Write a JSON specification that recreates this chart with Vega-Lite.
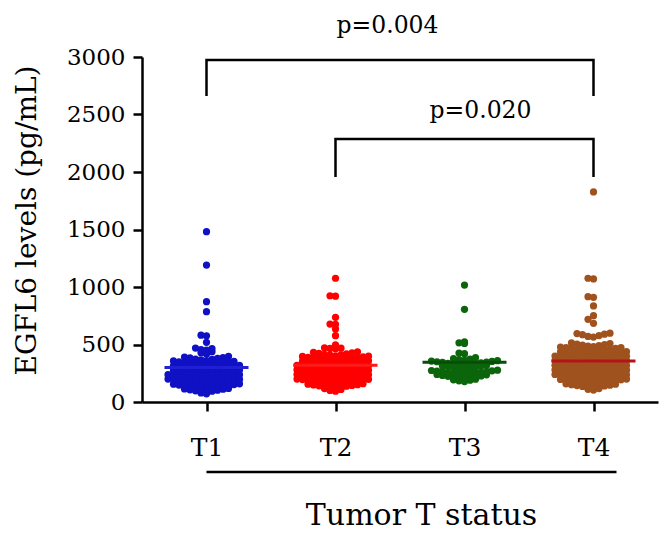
{
  "$schema": "https://vega.github.io/schema/vega-lite/v6.json",
  "width": 516,
  "height": 345,
  "autosize": {"type": "none"},
  "padding": {"left": 142, "top": 57, "right": 12, "bottom": 139},
  "background": "white",
  "config": {
    "view": {"stroke": null},
    "font": "DejaVu Serif",
    "axis": {
      "grid": false,
      "domainColor": "black",
      "domainWidth": 2.5,
      "tickColor": "black",
      "tickWidth": 2.5,
      "tickSize": 9,
      "labelColor": "black",
      "titleColor": "black",
      "labelFont": "DejaVu Serif",
      "titleFont": "DejaVu Serif",
      "titleFontWeight": "normal",
      "labelFlush": false,
      "labelOverlap": false
    },
    "axisX": {"labelFontSize": 25, "labelPadding": 24, "labelAngle": 0, "titleFontSize": 30, "titleX": 279, "titleY": 98, "titleBaseline": "top", "titleAlign": "center"},
    "axisY": {"labelFontSize": 23, "labelPadding": 8, "tickCount": 6, "titleFontSize": 28, "titleX": -107, "titleY": 163, "titleAlign": "center", "titleBaseline": "alphabetic", "titleAngle": -90}
  },
  "resolve": {"scale": {"color": "independent"}},
  "datasets": {
    "pts": [
      {"g":"T1","v":71},{"g":"T1","v":79},
      {"g":"T1","v":83},{"g":"T1","v":90},{"g":"T1","v":94},{"g":"T1","v":97},{"g":"T1","v":103},{"g":"T1","v":106},{"g":"T1","v":111},{"g":"T1","v":113},{"g":"T1","v":118},
      {"g":"T1","v":122},{"g":"T1","v":125},{"g":"T1","v":126},{"g":"T1","v":131},{"g":"T1","v":134},{"g":"T1","v":135},{"g":"T1","v":140},{"g":"T1","v":143},{"g":"T1","v":146},{"g":"T1","v":147},{"g":"T1","v":152},{"g":"T1","v":155},{"g":"T1","v":158},
      {"g":"T1","v":160},{"g":"T1","v":163},{"g":"T1","v":168},{"g":"T1","v":169},{"g":"T1","v":172},{"g":"T1","v":177},{"g":"T1","v":180},{"g":"T1","v":181},{"g":"T1","v":186},{"g":"T1","v":189},{"g":"T1","v":190},{"g":"T1","v":195},{"g":"T1","v":196},{"g":"T1","v":199},
      {"g":"T1","v":202},{"g":"T1","v":203},{"g":"T1","v":208},{"g":"T1","v":211},{"g":"T1","v":212},{"g":"T1","v":217},{"g":"T1","v":220},{"g":"T1","v":223},{"g":"T1","v":224},{"g":"T1","v":229},{"g":"T1","v":232},{"g":"T1","v":233},{"g":"T1","v":236},{"g":"T1","v":238},
      {"g":"T1","v":242},{"g":"T1","v":245},{"g":"T1","v":246},{"g":"T1","v":251},{"g":"T1","v":254},{"g":"T1","v":255},{"g":"T1","v":260},{"g":"T1","v":263},{"g":"T1","v":264},{"g":"T1","v":269},{"g":"T1","v":272},{"g":"T1","v":275},{"g":"T1","v":278},
      {"g":"T1","v":280},{"g":"T1","v":285},{"g":"T1","v":288},{"g":"T1","v":289},{"g":"T1","v":294},{"g":"T1","v":297},{"g":"T1","v":298},{"g":"T1","v":303},{"g":"T1","v":306},{"g":"T1","v":307},{"g":"T1","v":312},{"g":"T1","v":315},{"g":"T1","v":318},
      {"g":"T1","v":321},{"g":"T1","v":326},{"g":"T1","v":327},{"g":"T1","v":332},{"g":"T1","v":335},{"g":"T1","v":338},{"g":"T1","v":341},{"g":"T1","v":342},{"g":"T1","v":347},{"g":"T1","v":350},{"g":"T1","v":353},{"g":"T1","v":357},
      {"g":"T1","v":361},{"g":"T1","v":367},{"g":"T1","v":371},{"g":"T1","v":373},{"g":"T1","v":379},{"g":"T1","v":383},{"g":"T1","v":385},{"g":"T1","v":391},{"g":"T1","v":396},
      {"g":"T1","v":417},{"g":"T1","v":429},{"g":"T1","v":437},
      {"g":"T1","v":451},{"g":"T1","v":456},{"g":"T1","v":464},{"g":"T1","v":469},
      {"g":"T1","v":519},{"g":"T1","v":576},{"g":"T1","v":581},{"g":"T1","v":785},{"g":"T1","v":872},{"g":"T1","v":1191},{"g":"T1","v":1481},

      {"g":"T2","v":94},{"g":"T2","v":101},{"g":"T2","v":109},{"g":"T2","v":117},
      {"g":"T2","v":121},{"g":"T2","v":126},{"g":"T2","v":129},{"g":"T2","v":133},{"g":"T2","v":137},{"g":"T2","v":141},{"g":"T2","v":144},{"g":"T2","v":148},{"g":"T2","v":151},{"g":"T2","v":155},{"g":"T2","v":159},
      {"g":"T2","v":161},{"g":"T2","v":164},{"g":"T2","v":167},{"g":"T2","v":171},{"g":"T2","v":174},{"g":"T2","v":178},{"g":"T2","v":180},{"g":"T2","v":183},{"g":"T2","v":187},{"g":"T2","v":190},{"g":"T2","v":192},{"g":"T2","v":195},{"g":"T2","v":197},{"g":"T2","v":199},
      {"g":"T2","v":201},{"g":"T2","v":205},{"g":"T2","v":206},{"g":"T2","v":210},{"g":"T2","v":214},{"g":"T2","v":216},{"g":"T2","v":219},{"g":"T2","v":223},{"g":"T2","v":225},{"g":"T2","v":228},{"g":"T2","v":231},{"g":"T2","v":234},{"g":"T2","v":236},{"g":"T2","v":239},
      {"g":"T2","v":240},{"g":"T2","v":243},{"g":"T2","v":247},{"g":"T2","v":250},{"g":"T2","v":252},{"g":"T2","v":256},{"g":"T2","v":259},{"g":"T2","v":262},{"g":"T2","v":265},{"g":"T2","v":268},{"g":"T2","v":270},{"g":"T2","v":274},{"g":"T2","v":276},{"g":"T2","v":279},
      {"g":"T2","v":281},{"g":"T2","v":284},{"g":"T2","v":286},{"g":"T2","v":290},{"g":"T2","v":293},{"g":"T2","v":297},{"g":"T2","v":299},{"g":"T2","v":302},{"g":"T2","v":304},{"g":"T2","v":308},{"g":"T2","v":311},{"g":"T2","v":313},{"g":"T2","v":316},{"g":"T2","v":319},
      {"g":"T2","v":322},{"g":"T2","v":325},{"g":"T2","v":328},{"g":"T2","v":331},{"g":"T2","v":334},{"g":"T2","v":336},{"g":"T2","v":340},{"g":"T2","v":343},{"g":"T2","v":345},{"g":"T2","v":349},{"g":"T2","v":352},{"g":"T2","v":355},{"g":"T2","v":358},
      {"g":"T2","v":361},{"g":"T2","v":364},{"g":"T2","v":368},{"g":"T2","v":370},{"g":"T2","v":374},{"g":"T2","v":377},{"g":"T2","v":380},{"g":"T2","v":384},{"g":"T2","v":386},{"g":"T2","v":389},{"g":"T2","v":392},{"g":"T2","v":396},{"g":"T2","v":398},
      {"g":"T2","v":402},{"g":"T2","v":407},{"g":"T2","v":411},{"g":"T2","v":415},{"g":"T2","v":418},{"g":"T2","v":423},{"g":"T2","v":427},{"g":"T2","v":431},{"g":"T2","v":436},
      {"g":"T2","v":463},{"g":"T2","v":466},{"g":"T2","v":468},{"g":"T2","v":471},
      {"g":"T2","v":496},{"g":"T2","v":577},{"g":"T2","v":635},{"g":"T2","v":676},{"g":"T2","v":678},{"g":"T2","v":736},{"g":"T2","v":920},{"g":"T2","v":924},{"g":"T2","v":1076},

      {"g":"T3","v":178},{"g":"T3","v":184},{"g":"T3","v":189},{"g":"T3","v":193},{"g":"T3","v":198},
      {"g":"T3","v":203},{"g":"T3","v":207},{"g":"T3","v":211},{"g":"T3","v":215},{"g":"T3","v":219},{"g":"T3","v":223},{"g":"T3","v":227},{"g":"T3","v":231},{"g":"T3","v":236},{"g":"T3","v":239},
      {"g":"T3","v":241},{"g":"T3","v":244},{"g":"T3","v":247},{"g":"T3","v":250},{"g":"T3","v":253},{"g":"T3","v":256},{"g":"T3","v":258},{"g":"T3","v":262},{"g":"T3","v":265},{"g":"T3","v":268},{"g":"T3","v":271},{"g":"T3","v":274},{"g":"T3","v":277},
      {"g":"T3","v":283},{"g":"T3","v":288},{"g":"T3","v":292},{"g":"T3","v":297},{"g":"T3","v":301},{"g":"T3","v":306},{"g":"T3","v":310},{"g":"T3","v":314},{"g":"T3","v":318},
      {"g":"T3","v":322},{"g":"T3","v":325},{"g":"T3","v":328},{"g":"T3","v":331},{"g":"T3","v":334},{"g":"T3","v":337},{"g":"T3","v":340},{"g":"T3","v":344},{"g":"T3","v":347},{"g":"T3","v":350},{"g":"T3","v":353},{"g":"T3","v":356},{"g":"T3","v":359},
      {"g":"T3","v":363},{"g":"T3","v":368},{"g":"T3","v":372},{"g":"T3","v":377},{"g":"T3","v":385},
      {"g":"T3","v":420},{"g":"T3","v":426},{"g":"T3","v":509},{"g":"T3","v":515},{"g":"T3","v":522},{"g":"T3","v":806},{"g":"T3","v":1017},

      {"g":"T4","v":104},{"g":"T4","v":110},{"g":"T4","v":117},
      {"g":"T4","v":123},{"g":"T4","v":128},{"g":"T4","v":131},{"g":"T4","v":135},{"g":"T4","v":139},{"g":"T4","v":143},{"g":"T4","v":146},{"g":"T4","v":150},{"g":"T4","v":155},{"g":"T4","v":158},
      {"g":"T4","v":161},{"g":"T4","v":165},{"g":"T4","v":167},{"g":"T4","v":171},{"g":"T4","v":174},{"g":"T4","v":178},{"g":"T4","v":180},{"g":"T4","v":184},{"g":"T4","v":187},{"g":"T4","v":191},{"g":"T4","v":193},{"g":"T4","v":196},{"g":"T4","v":199},
      {"g":"T4","v":201},{"g":"T4","v":204},{"g":"T4","v":208},{"g":"T4","v":210},{"g":"T4","v":213},{"g":"T4","v":217},{"g":"T4","v":219},{"g":"T4","v":222},{"g":"T4","v":226},{"g":"T4","v":228},{"g":"T4","v":231},{"g":"T4","v":235},{"g":"T4","v":237},{"g":"T4","v":239},
      {"g":"T4","v":241},{"g":"T4","v":245},{"g":"T4","v":247},{"g":"T4","v":250},{"g":"T4","v":254},{"g":"T4","v":256},{"g":"T4","v":259},{"g":"T4","v":263},{"g":"T4","v":265},{"g":"T4","v":268},{"g":"T4","v":272},{"g":"T4","v":274},{"g":"T4","v":277},{"g":"T4","v":279},
      {"g":"T4","v":281},{"g":"T4","v":284},{"g":"T4","v":288},{"g":"T4","v":290},{"g":"T4","v":293},{"g":"T4","v":297},{"g":"T4","v":299},{"g":"T4","v":302},{"g":"T4","v":306},{"g":"T4","v":308},{"g":"T4","v":311},{"g":"T4","v":315},{"g":"T4","v":317},{"g":"T4","v":319},
      {"g":"T4","v":321},{"g":"T4","v":325},{"g":"T4","v":327},{"g":"T4","v":330},{"g":"T4","v":334},{"g":"T4","v":336},{"g":"T4","v":339},{"g":"T4","v":343},{"g":"T4","v":345},{"g":"T4","v":348},{"g":"T4","v":352},{"g":"T4","v":354},{"g":"T4","v":357},{"g":"T4","v":359},
      {"g":"T4","v":361},{"g":"T4","v":365},{"g":"T4","v":367},{"g":"T4","v":370},{"g":"T4","v":374},{"g":"T4","v":376},{"g":"T4","v":379},{"g":"T4","v":383},{"g":"T4","v":385},{"g":"T4","v":388},{"g":"T4","v":392},{"g":"T4","v":394},{"g":"T4","v":397},{"g":"T4","v":399},
      {"g":"T4","v":402},{"g":"T4","v":406},{"g":"T4","v":408},{"g":"T4","v":411},{"g":"T4","v":415},{"g":"T4","v":417},{"g":"T4","v":420},{"g":"T4","v":424},{"g":"T4","v":426},{"g":"T4","v":429},{"g":"T4","v":433},{"g":"T4","v":435},{"g":"T4","v":438},
      {"g":"T4","v":442},{"g":"T4","v":446},{"g":"T4","v":448},{"g":"T4","v":451},{"g":"T4","v":456},{"g":"T4","v":458},{"g":"T4","v":461},{"g":"T4","v":465},{"g":"T4","v":467},{"g":"T4","v":472},{"g":"T4","v":474},{"g":"T4","v":478},
      {"g":"T4","v":482},{"g":"T4","v":487},{"g":"T4","v":490},{"g":"T4","v":495},{"g":"T4","v":499},{"g":"T4","v":504},{"g":"T4","v":508},{"g":"T4","v":514},
      {"g":"T4","v":565},{"g":"T4","v":570},{"g":"T4","v":578},{"g":"T4","v":585},{"g":"T4","v":590},{"g":"T4","v":595},{"g":"T4","v":598},
      {"g":"T4","v":684},{"g":"T4","v":719},{"g":"T4","v":751},{"g":"T4","v":835},{"g":"T4","v":910},{"g":"T4","v":916},{"g":"T4","v":1070},{"g":"T4","v":1076},{"g":"T4","v":1827}
    ],
    "means": [
      {"g":"T1","v":300},{"g":"T2","v":320},{"g":"T3","v":345},{"g":"T4","v":357}
    ],
    "brackets": [
      {"b":1,"o":1,"g":"T1","v":2661},{"b":1,"o":2,"g":"T1","v":2974},{"b":1,"o":3,"g":"T4","v":2974},{"b":1,"o":4,"g":"T4","v":2661},
      {"b":2,"o":1,"g":"T2","v":1957},{"b":2,"o":2,"g":"T2","v":2287},{"b":2,"o":3,"g":"T4","v":2287},{"b":2,"o":4,"g":"T4","v":1957}
    ]
  },
  "layer": [
    {
      "data": {"name": "brackets"},
      "mark": {"type": "line", "color": "black", "strokeWidth": 2.5, "strokeJoin": "miter", "strokeCap": "butt"},
      "encoding": {
        "x": {"field": "g", "type": "nominal", "scale": {"type": "point", "domain": ["T1","T2","T3","T4"], "padding": 0.5}, "title": "Tumor T status"},
        "y": {"field": "v", "type": "quantitative", "scale": {"domain": [0, 3000]}, "axis": {"format": "d"}, "title": "EGFL6 levels (pg/mL)"},
        "detail": {"field": "b", "type": "nominal"},
        "order": {"field": "o", "type": "quantitative"}
      }
    },
    {
      "data": {"name": "pts"},
      "transform": [
        {"bin": {"step": 40, "anchor": 0}, "field": "v", "as": "vb"},
        {"window": [{"op": "row_number", "as": "r"}], "groupby": ["g", "vb"], "sort": [{"field": "v", "order": "ascending"}]}
      ],
      "mark": {"type": "circle", "size": 52, "opacity": 1},
      "encoding": {
        "x": {"field": "g", "type": "nominal", "scale": {"type": "point", "domain": ["T1","T2","T3","T4"], "padding": 0.5}, "title": "Tumor T status"},
        "xOffset": {"field": "r", "type": "ordinal", "scale": {"type": "point", "domain": [16,14,12,10,8,6,4,2,1,3,5,7,9,11,13,15,17], "range": [-44, 44], "padding": 0}},
        "y": {"field": "v", "type": "quantitative", "scale": {"domain": [0, 3000]}, "axis": {"format": "d"}, "title": "EGFL6 levels (pg/mL)"},
        "color": {"field": "g", "type": "nominal", "scale": {"domain": ["T1","T2","T3","T4"], "range": ["#1010c4", "#ff0000", "#0b660b", "#a0521e"]}, "legend": null}
      }
    },
    {
      "data": {"name": "means"},
      "mark": {"type": "tick", "size": 84, "thickness": 3, "opacity": 1},
      "encoding": {
        "x": {"field": "g", "type": "nominal", "scale": {"type": "point", "domain": ["T1","T2","T3","T4"], "padding": 0.5}, "title": "Tumor T status"},
        "y": {"field": "v", "type": "quantitative", "scale": {"domain": [0, 3000]}, "axis": {"format": "d"}, "title": "EGFL6 levels (pg/mL)"},
        "color": {"field": "g", "type": "nominal", "scale": {"domain": ["T1","T2","T3","T4"], "range": ["#1f1fd4", "#ff1a1a", "#0a4d0a", "#b3141a"]}, "legend": null}
      }
    },
    {
      "data": {"values": [{"g": "T2", "v": 3209, "label": "p=0.004"}]},
      "mark": {"type": "text", "font": "DejaVu Serif", "fontSize": 23.5, "align": "center", "baseline": "alphabetic", "dx": 52, "color": "black"},
      "encoding": {
        "x": {"field": "g", "type": "nominal", "scale": {"type": "point", "domain": ["T1","T2","T3","T4"], "padding": 0.5}, "title": "Tumor T status"},
        "y": {"field": "v", "type": "quantitative", "scale": {"domain": [0, 3000]}, "axis": {"format": "d"}, "title": "EGFL6 levels (pg/mL)"},
        "text": {"field": "label"}
      }
    },
    {
      "data": {"values": [{"g": "T3", "v": 2470, "label": "p=0.020"}]},
      "mark": {"type": "text", "font": "DejaVu Serif", "fontSize": 23.5, "align": "center", "baseline": "alphabetic", "dx": 16, "color": "black"},
      "encoding": {
        "x": {"field": "g", "type": "nominal", "scale": {"type": "point", "domain": ["T1","T2","T3","T4"], "padding": 0.5}, "title": "Tumor T status"},
        "y": {"field": "v", "type": "quantitative", "scale": {"domain": [0, 3000]}, "axis": {"format": "d"}, "title": "EGFL6 levels (pg/mL)"},
        "text": {"field": "label"}
      }
    },
    {
      "data": {"values": [{"g": "T1", "g2": "T4", "v": -609}]},
      "mark": {"type": "rule", "color": "black", "strokeWidth": 2.5, "x2Offset": 23},
      "encoding": {
        "x": {"field": "g", "type": "nominal", "scale": {"type": "point", "domain": ["T1","T2","T3","T4"], "padding": 0.5}, "title": "Tumor T status"},
        "x2": {"field": "g2"},
        "y": {"field": "v", "type": "quantitative", "scale": {"domain": [0, 3000]}, "axis": {"format": "d"}, "title": "EGFL6 levels (pg/mL)"}
      }
    }
  ]
}
